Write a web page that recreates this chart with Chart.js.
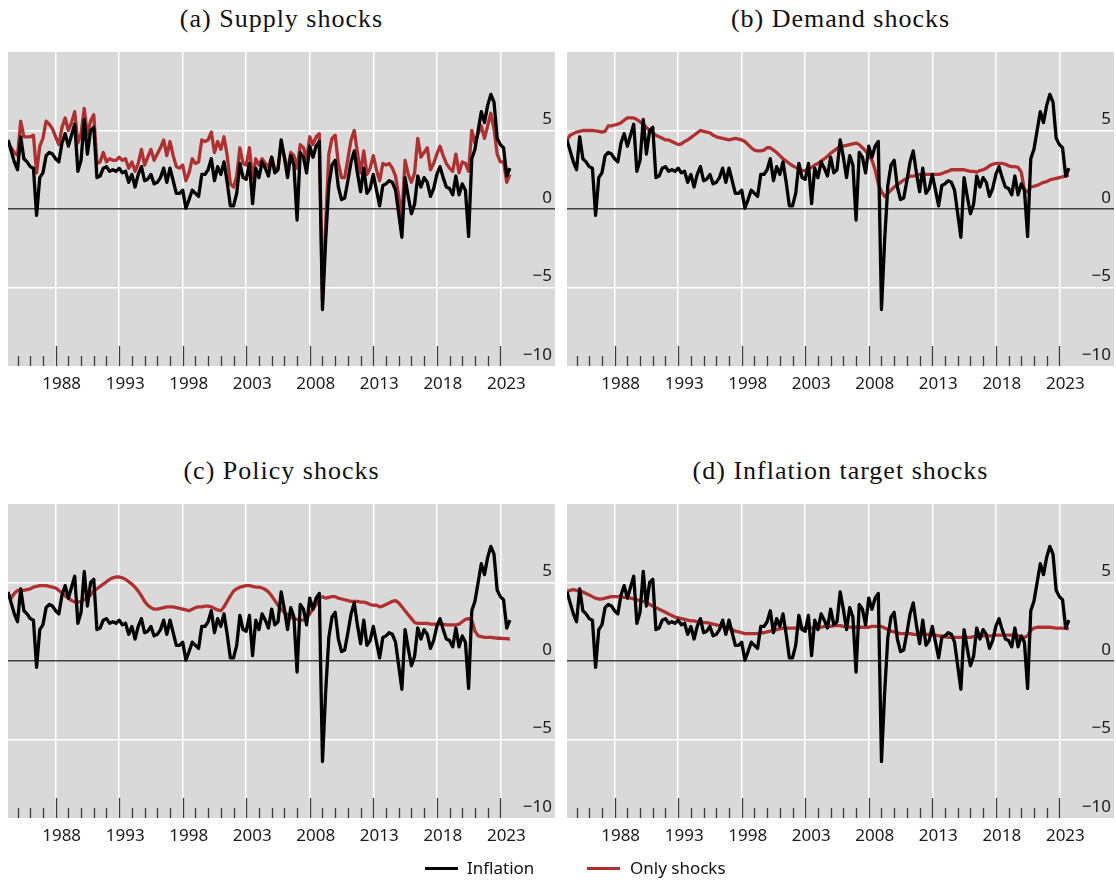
<!DOCTYPE html>
<html>
<head>
<meta charset="utf-8">
<script src="https://cdn.jsdelivr.net/npm/chart.js@4.4.1/dist/chart.umd.min.js"></script>
<style>
  html, body { margin: 0; padding: 0; background: #fff; }
  body { width: 1116px; height: 884px; position: relative; overflow: hidden; }
  canvas { position: absolute; }
  .ttl { position: absolute; width: 547px; text-align: center; font-family: "Liberation Serif", "Times New Roman", serif;
         font-size: 26px; letter-spacing: 1px; color: #111; height: 30px; line-height: 30px; white-space: nowrap; }
  .legend { position: absolute; top: 856px; left: 0; width: 1116px; height: 24px; font-family: "Noto Sans", sans-serif;
            font-size: 17px; color: #111; }
  .legend .sw { position: absolute; top: 11px; width: 33px; height: 3px; }
  .legend .lb { position: absolute; top: 0; line-height: 24px; }
</style>
</head>
<body>
<div class="ttl" style="left:8px;top:4px">(a) Supply shocks</div>
<div class="ttl" style="left:567px;top:4px">(b) Demand shocks</div>
<div class="ttl" style="left:8px;top:456px">(c) Policy shocks</div>
<div class="ttl" style="left:567px;top:456px">(d) Inflation target shocks</div>

<canvas id="pa" width="563" height="370" style="left:0;top:40px"></canvas>
<canvas id="pb" width="557" height="370" style="left:559px;top:40px"></canvas>
<canvas id="pc" width="563" height="370" style="left:0;top:492px"></canvas>
<canvas id="pd" width="557" height="370" style="left:559px;top:492px"></canvas>

<div class="legend">
  <div class="sw" style="left:425px;background:#000"></div><div class="lb" style="left:467px">Inflation</div>
  <div class="sw" style="left:587px;background:#b03030"></div><div class="lb" style="left:630px">Only shocks</div>
</div>

<script>
// Quarterly observations, first quarter 1984Q2
const firstQuarter = 1984.25;

// Inflation, annualised quarterly rate (%)
const inflation = [
  4.4, 3.7, 3.0, 2.5, 4.6, 3.2, 3.0, 2.7, 2.6, -0.4,
  2.0, 2.3, 3.4, 3.6, 3.5, 3.2, 3.0, 4.2, 4.8, 4.0,
  4.7, 5.4, 2.4, 3.1, 5.7, 3.5, 5.0, 5.2, 2.0, 2.1,
  2.6, 2.7, 2.4, 2.5, 2.4, 2.6, 2.3, 2.4, 1.7, 2.2,
  1.4, 2.2, 2.7, 1.8, 1.9, 2.2, 1.6, 1.7, 2.0, 2.6,
  1.7, 2.6, 1.8, 1.0, 1.0, 1.2, 0.05, 0.6, 1.2, 1.0,
  0.8, 2.2, 2.2, 2.5, 3.2, 1.8, 2.7, 2.2, 3.0, 1.7,
  0.2, 0.2, 1.0, 2.9, 2.0, 1.9, 2.9, 0.35, 2.6, 2.0,
  3.0, 2.6, 2.1, 3.3, 2.3, 2.5, 4.4, 3.3, 2.0, 3.4,
  2.8, -0.7, 3.6, 3.3, 2.3, 4.0, 3.3, 4.0, 4.3, -6.4,
  -2.0, 1.5, 2.8, 3.1, 1.4, 0.6, 0.7, 1.8, 3.0, 3.7,
  2.3, 1.1, 2.6, 1.0, 1.3, 2.2, 1.2, 0.2, 1.5, 1.6,
  1.8, 1.7, 1.2, -0.3, -1.8, 2.0, 0.8, -0.3, 0.3, 2.1,
  1.4, 2.0, 1.7, 0.8, 1.3, 2.2, 2.7, 2.0, 1.4, 1.3,
  0.9, 2.1, 0.9, 1.6, 1.2, -1.75, 3.2, 3.8, 5.0, 6.2,
  5.5, 6.6, 7.3, 6.8, 4.5, 4.1, 3.9, 2.1, 2.6
];

// Inflation explained by supply shocks only
const onlySupply = [
  4.3, 3.9, 3.6, 3.4, 5.6, 4.6, 4.6, 4.6, 4.7, 2.3,
  4.0, 4.5, 5.6, 5.4, 5.1, 4.6, 4.1, 5.2, 5.8, 5.0,
  5.5, 6.2, 4.2, 4.8, 6.4, 4.7, 5.6, 6.0, 2.9, 3.0,
  3.6, 3.0, 3.2, 3.1, 3.1, 3.3, 3.1, 3.2, 2.6, 3.0,
  2.4, 2.9, 3.8, 2.8, 3.3, 3.8, 3.1, 3.5, 3.9, 4.4,
  3.4, 4.3, 3.4, 2.7, 2.6, 2.8, 1.8, 2.3, 3.2, 2.9,
  3.0, 4.4, 4.3, 4.4, 4.9, 3.6, 4.3, 3.8, 4.6, 3.4,
  1.6, 1.4, 2.1, 3.9, 2.9, 2.8, 3.9, 1.9, 3.2, 2.8,
  3.2, 2.9, 2.7, 3.3, 2.5, 2.6, 4.2, 3.3, 2.4, 3.6,
  3.4, 2.6, 4.1, 3.9, 3.2, 4.6, 4.1, 4.6, 4.8, -5.8,
  -1.0, 3.5, 4.5, 4.7, 2.9, 2.0, 2.0, 3.2, 4.4, 5.0,
  3.6, 2.3, 3.7, 2.2, 2.6, 3.4, 2.5, 1.8, 2.9, 2.8,
  2.9, 2.6, 2.1, 0.8, -0.5, 3.1, 2.2, 1.7, 2.3, 4.5,
  3.3, 3.6, 3.9, 2.5, 2.9, 3.5, 4.0, 3.4, 2.9, 2.6,
  2.4, 3.5, 2.3, 3.0, 2.9, 2.4, 5.0, 4.2, 4.8, 5.3,
  4.5, 5.3, 6.1, 5.1, 3.5, 3.0, 3.0, 1.7, 2.2
];

// Inflation explained by demand shocks only
const onlyDemand = [
  4.4, 4.7, 4.8, 4.9, 4.95, 5.0, 5.0, 5.0, 5.0, 4.97,
  4.95, 4.9, 4.95, 5.3, 5.3, 5.35, 5.4, 5.5, 5.65, 5.8,
  5.8, 5.8, 5.7, 5.55, 5.4, 5.2, 5.0, 4.85, 4.7, 4.6,
  4.5, 4.4, 4.4, 4.3, 4.2, 4.1, 4.15, 4.3, 4.4, 4.55,
  4.7, 4.85, 5.0, 4.95, 4.9, 4.85, 4.7, 4.6, 4.55, 4.5,
  4.45, 4.4, 4.45, 4.5, 4.45, 4.4, 4.3, 4.1, 3.9, 3.75,
  3.7, 3.7, 3.75, 3.9, 3.9, 3.75, 3.6, 3.4, 3.2, 3.05,
  2.9, 2.75, 2.65, 2.55, 2.45, 2.45, 2.55, 2.65, 2.8, 2.9,
  3.05, 3.2, 3.35, 3.55, 3.7, 3.85, 3.95, 4.0, 4.05, 4.1,
  4.15, 4.2, 4.1, 3.9, 3.7, 3.45, 3.1, 2.5, 1.6, 1.1,
  0.8, 1.0, 1.2, 1.4, 1.55, 1.7, 1.85, 1.95, 2.1, 2.1,
  2.15, 2.2, 2.15, 2.2, 2.2, 2.2, 2.2, 2.2, 2.25, 2.35,
  2.4, 2.5, 2.5, 2.5, 2.5, 2.5, 2.45, 2.4, 2.4, 2.35,
  2.45, 2.5, 2.6, 2.75, 2.85, 2.9, 2.9, 2.9, 2.85, 2.75,
  2.7, 2.7, 2.65, 2.35, 1.2, 1.1, 1.4, 1.45, 1.5, 1.6,
  1.7, 1.75, 1.85, 1.9, 1.95, 2.0, 2.05, 2.1, 2.15
];

// Inflation explained by monetary policy shocks only
const onlyPolicy = [
  4.3, 4.0, 4.3, 4.5, 4.5, 4.5, 4.55, 4.6, 4.7, 4.75,
  4.8, 4.8, 4.8, 4.75, 4.7, 4.65, 4.5, 4.35, 4.15, 4.0,
  3.85, 3.75, 3.75, 3.8, 3.9, 4.05, 4.2, 4.45, 4.6, 4.75,
  4.9, 5.05, 5.2, 5.3, 5.35, 5.35, 5.3, 5.2, 5.05, 4.9,
  4.7, 4.45, 4.15, 3.8, 3.55, 3.4, 3.3, 3.3, 3.35, 3.4,
  3.45, 3.45, 3.45, 3.4, 3.35, 3.3, 3.25, 3.2, 3.3, 3.4,
  3.45, 3.45, 3.5, 3.5, 3.45, 3.35, 3.25, 3.2, 3.45, 3.8,
  4.15, 4.45, 4.6, 4.7, 4.75, 4.8, 4.8, 4.75, 4.7, 4.7,
  4.65, 4.55, 4.4, 4.15, 3.85, 3.55, 3.3, 3.1, 2.95, 2.8,
  2.7, 2.65, 2.6, 2.6, 2.75, 3.0, 3.3, 3.6, 4.0, 4.1,
  4.0, 4.05, 4.1, 4.1, 4.0, 3.95, 3.9, 3.85, 3.8, 3.8,
  3.8, 3.75, 3.75, 3.7, 3.6, 3.55, 3.55, 3.45, 3.5, 3.6,
  3.7, 3.8, 3.85, 3.7, 3.45, 3.2, 2.95, 2.7, 2.45, 2.4,
  2.4, 2.4, 2.4, 2.35, 2.35, 2.35, 2.35, 2.35, 2.3, 2.3,
  2.3, 2.3, 2.35, 2.5, 2.65, 2.7, 2.6, 1.9, 1.6, 1.55,
  1.5, 1.5, 1.5, 1.48, 1.45, 1.45, 1.43, 1.42, 1.4
];

// Inflation explained by inflation target shocks only
const onlyTarget = [
  4.45, 4.5, 4.55, 4.5, 4.45, 4.4, 4.3, 4.2, 4.1, 4.0,
  3.95, 3.95, 4.0, 4.05, 4.1, 4.1, 4.1, 4.1, 4.05, 4.05,
  4.0, 3.95, 3.9, 3.85, 3.8, 3.75, 3.6, 3.5, 3.4, 3.3,
  3.2, 3.1, 3.0, 2.9, 2.8, 2.75, 2.7, 2.65, 2.6, 2.55,
  2.55, 2.5, 2.5, 2.45, 2.45, 2.4, 2.35, 2.3, 2.25, 2.2,
  2.1, 2.05, 2.0, 1.9, 1.85, 1.8, 1.75, 1.75, 1.75, 1.75,
  1.75, 1.8, 1.8, 1.85, 1.9, 1.95, 2.0, 2.05, 2.1, 2.1,
  2.1, 2.1, 2.1, 2.1, 2.1, 2.1, 2.1, 2.1, 2.15, 2.15,
  2.15, 2.2, 2.2, 2.2, 2.25, 2.25, 2.25, 2.2, 2.2, 2.15,
  2.15, 2.15, 2.15, 2.15, 2.15, 2.15, 2.2, 2.2, 2.2, 2.2,
  2.1, 2.0, 1.9, 1.85, 1.8, 1.75, 1.75, 1.75, 1.75, 1.7,
  1.7, 1.7, 1.7, 1.7, 1.7, 1.65, 1.65, 1.6, 1.6, 1.55,
  1.5, 1.5, 1.5, 1.5, 1.5, 1.5, 1.5, 1.5, 1.55, 1.55,
  1.55, 1.6, 1.6, 1.6, 1.6, 1.65, 1.65, 1.65, 1.65, 1.65,
  1.65, 1.65, 1.6, 1.55, 1.5, 1.6, 1.95, 2.1, 2.15, 2.15,
  2.15, 2.15, 2.15, 2.12, 2.1, 2.1, 2.1, 2.08, 2.05
];

// Axis ticks
const xGridYears = [1988, 1993, 1998, 2003, 2008, 2013, 2018, 2023];
const xTickLabels = ['1988', '1993', '1998', '2003', '2008', '2013', '2018', '2023'];
const yTickValues = [-10, -5, 0, 5, 10];
const yTickLabels = ['\u221210', '\u22125', '0', '5', ''];
const firstMarkYear = 1985, lastMarkYear = 2023;

const RED = '#b03030';
const TICK_FONT = { family: '"Noto Sans", sans-serif', size: 17 };

function toPoints(values) {
  return values.map((v, i) => ({ x: firstQuarter + i * 0.25, y: v }));
}

// Grey plotting area and the short year marks rising from its lower edge
const panelDecor = {
  id: 'panelDecor',
  beforeDraw(chart) {
    const { ctx, chartArea: a } = chart;
    ctx.save();
    ctx.fillStyle = '#d9d9d9';
    ctx.fillRect(a.left, a.top, a.right - a.left, a.bottom - a.top);
    ctx.restore();
  },
  beforeDatasetsDraw(chart) {
    const { ctx, chartArea: a, scales: { x } } = chart;
    ctx.save();
    ctx.strokeStyle = '#3a3a3a';
    ctx.lineWidth = 1.3;
    for (let yr = firstMarkYear; yr <= lastMarkYear; yr++) {
      const px = Math.round(x.getPixelForValue(yr)) + 0.5;
      const len = xGridYears.includes(yr) ? 20 : 10;
      ctx.beginPath();
      ctx.moveTo(px, a.bottom);
      ctx.lineTo(px, a.bottom - len);
      ctx.stroke();
    }
    ctx.restore();
  }
};

function makePanel(id, shocks, padRight) {
  new Chart(document.getElementById(id), {
    type: 'line',
    data: {
      datasets: [
        { label: 'Inflation', data: toPoints(inflation), borderColor: '#000', borderWidth: 3.3,
          pointRadius: 0, tension: 0, borderJoinStyle: 'round' },
        { label: 'Only shocks', data: toPoints(shocks), borderColor: RED, borderWidth: 3.3,
          pointRadius: 0, tension: 0, borderJoinStyle: 'round' }
      ]
    },
    options: {
      responsive: false,
      animation: false,
      events: [],
      layout: { padding: { left: 8, right: padRight, top: 12, bottom: 0 } },
      plugins: { legend: { display: false }, tooltip: { enabled: false } },
      scales: {
        x: {
          type: 'linear', min: 1984.25, max: 2027.3,
          afterBuildTicks: s => { s.ticks = xGridYears.map(v => ({ value: v })); },
          afterFit: s => { s.height = 44; },
          border: { display: false },
          grid: { drawTicks: false, color: '#ffffff', lineWidth: 1.5 },
          ticks: { autoSkip: false, maxRotation: 0, padding: 8, labelOffset: 6, color: '#1a1a1a', font: TICK_FONT,
                   callback: (v, i) => xTickLabels[i] }
        },
        y: {
          position: 'right', min: -10, max: 10,
          afterBuildTicks: s => { s.ticks = yTickValues.map(v => ({ value: v })); },
          afterFit: s => { s.width = 0; },
          border: { display: false },
          grid: {
            drawTicks: false,
            color: c => (c.tick.value === 0 ? '#404040' : (Math.abs(c.tick.value) === 10 ? 'rgba(0,0,0,0)' : '#ffffff')),
            lineWidth: 1.5
          },
          ticks: { mirror: true, padding: -3, labelOffset: -11, color: '#1a1a1a', font: TICK_FONT,
                   callback: (v, i) => yTickLabels[i] }
        }
      }
    },
    plugins: [panelDecor]
  });
}

makePanel('pa', onlySupply, 8);
makePanel('pb', onlyDemand, 2);
makePanel('pc', onlyPolicy, 8);
makePanel('pd', onlyTarget, 2);
</script>
</body>
</html>
